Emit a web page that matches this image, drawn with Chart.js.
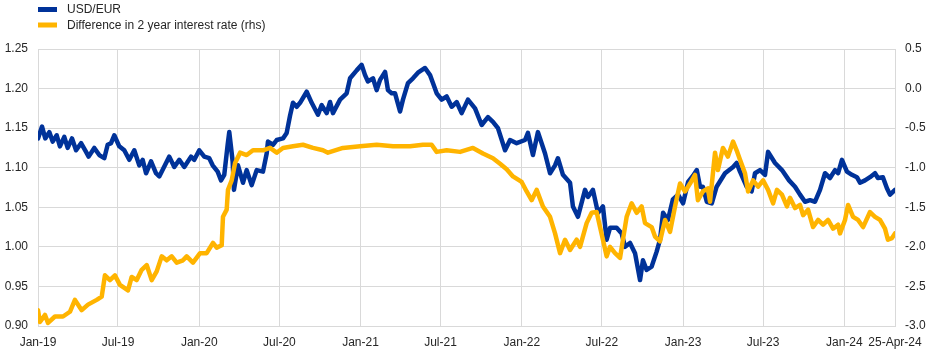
<!DOCTYPE html>
<html>
<head>
<meta charset="utf-8">
<script src="https://cdn.jsdelivr.net/npm/chart.js@4/dist/chart.umd.min.js"></script>
<style>
html,body{margin:0;padding:0;background:#fff;}
#wrap{position:relative;width:945px;height:356px;}
</style>
</head>
<body>
<div id="wrap"><canvas id="c" width="945" height="356"></canvas></div>
<script>
// Time expressed as decimal years
const usdTime = [
2019.000,2019.025,2019.045,2019.070,2019.091,2019.116,2019.136,2019.163,2019.184,2019.211,
2019.236,2019.267,2019.298,2019.314,2019.349,2019.380,2019.411,2019.432,2019.453,2019.473,
2019.504,2019.535,2019.566,2019.597,2019.628,2019.649,2019.670,2019.701,2019.732,2019.752,
2019.794,2019.814,2019.845,2019.876,2019.907,2019.949,2019.969,2020.000,2020.031,2020.062,
2020.083,2020.114,2020.135,2020.155,2020.176,2020.186,2020.207,2020.215,2020.240,2020.271,
2020.294,2020.325,2020.356,2020.395,2020.418,2020.426,2020.457,2020.480,2020.519,2020.542,
2020.563,2020.581,2020.604,2020.625,2020.666,2020.697,2020.736,2020.759,2020.790,2020.811,
2020.829,2020.873,2020.914,2020.935,2020.976,2021.007,2021.028,2021.046,2021.077,2021.100,
2021.121,2021.152,2021.170,2021.193,2021.214,2021.245,2021.263,2021.294,2021.325,2021.356,
2021.400,2021.431,2021.449,2021.472,2021.503,2021.534,2021.565,2021.596,2021.627,2021.666,
2021.710,2021.751,2021.790,2021.821,2021.852,2021.896,2021.927,2021.968,2022.020,2022.038,
2022.069,2022.100,2022.144,2022.175,2022.206,2022.224,2022.255,2022.299,2022.317,2022.348,
2022.392,2022.410,2022.441,2022.472,2022.503,2022.526,2022.547,2022.588,2022.619,2022.640,
2022.671,2022.702,2022.733,2022.751,2022.774,2022.805,2022.836,2022.857,2022.876,2022.906,
2022.937,2022.969,2023.000,2023.031,2023.062,2023.085,2023.105,2023.123,2023.147,2023.178,
2023.208,2023.260,2023.310,2023.332,2023.353,2023.394,2023.425,2023.446,2023.477,2023.508,
2023.527,2023.570,2023.613,2023.657,2023.694,2023.725,2023.756,2023.787,2023.818,2023.849,
2023.880,2023.911,2023.942,2023.961,2023.985,2024.016,2024.047,2024.078,2024.097,2024.128,
2024.159,2024.190,2024.208,2024.239,2024.264,2024.283,2024.314];
const usdValues = [
1.137,1.152,1.137,1.145,1.133,1.141,1.127,1.139,1.125,1.137,
1.122,1.131,1.120,1.114,1.125,1.116,1.112,1.129,1.131,1.141,
1.127,1.122,1.110,1.122,1.103,1.110,1.093,1.108,1.093,1.089,
1.106,1.114,1.101,1.110,1.101,1.114,1.110,1.122,1.114,1.112,
1.103,1.095,1.084,1.091,1.129,1.145,1.108,1.072,1.103,1.081,
1.097,1.078,1.097,1.095,1.118,1.133,1.129,1.135,1.137,1.144,
1.166,1.182,1.177,1.182,1.196,1.182,1.167,1.179,1.169,1.183,
1.169,1.186,1.194,1.213,1.223,1.230,1.217,1.209,1.213,1.198,
1.211,1.221,1.198,1.194,1.194,1.171,1.186,1.207,1.213,1.220,
1.226,1.217,1.207,1.194,1.186,1.190,1.177,1.183,1.169,1.186,
1.175,1.154,1.164,1.158,1.150,1.122,1.135,1.131,1.135,1.144,
1.116,1.145,1.118,1.093,1.103,1.112,1.091,1.081,1.051,1.038,
1.072,1.063,1.072,1.043,1.051,1.009,1.024,1.024,1.017,1.000,
1.005,0.992,0.958,0.983,0.971,0.975,0.994,1.009,1.043,1.034,
1.060,1.066,1.055,1.082,1.090,1.097,1.076,1.076,1.057,1.055,
1.076,1.093,1.101,1.106,1.095,1.076,1.070,1.093,1.097,1.091,
1.120,1.106,1.097,1.084,1.076,1.066,1.057,1.059,1.057,1.072,
1.093,1.087,1.097,1.093,1.110,1.095,1.091,1.088,1.081,1.084,
1.088,1.093,1.087,1.088,1.074,1.066,1.072];

const rateTime = [
2019.000,2019.012,2019.043,2019.062,2019.105,2019.155,2019.198,2019.229,2019.271,2019.310,
2019.364,2019.395,2019.415,2019.446,2019.477,2019.508,2019.558,2019.581,2019.612,2019.643,
2019.674,2019.705,2019.736,2019.767,2019.798,2019.829,2019.860,2019.899,2019.922,2019.961,
2020.005,2020.046,2020.085,2020.108,2020.139,2020.147,2020.170,2020.178,2020.201,2020.222,
2020.253,2020.294,2020.333,2020.395,2020.439,2020.480,2020.519,2020.581,2020.643,2020.705,
2020.767,2020.798,2020.891,2020.997,2021.100,2021.201,2021.307,2021.387,2021.441,2021.472,
2021.534,2021.617,2021.697,2021.759,2021.821,2021.865,2021.906,2021.945,2021.999,2022.030,
2022.061,2022.092,2022.131,2022.175,2022.206,2022.237,2022.268,2022.299,2022.340,2022.361,
2022.402,2022.433,2022.464,2022.485,2022.503,2022.526,2022.547,2022.578,2022.609,2022.627,
2022.650,2022.681,2022.712,2022.743,2022.764,2022.805,2022.826,2022.857,2022.888,2022.919,
2022.950,2022.981,2023.012,2023.043,2023.074,2023.092,2023.123,2023.154,2023.167,2023.198,
2023.216,2023.247,2023.278,2023.310,2023.332,2023.353,2023.384,2023.403,2023.434,2023.465,
2023.496,2023.527,2023.558,2023.582,2023.613,2023.644,2023.663,2023.694,2023.725,2023.744,
2023.775,2023.806,2023.837,2023.868,2023.899,2023.930,2023.961,2023.973,2024.004,2024.023,
2024.054,2024.085,2024.116,2024.159,2024.190,2024.221,2024.252,2024.270,2024.295,2024.314];
const rateValues = [
-2.80,-2.95,-2.86,-2.96,-2.88,-2.88,-2.82,-2.67,-2.80,-2.73,
-2.67,-2.63,-2.36,-2.42,-2.36,-2.48,-2.55,-2.38,-2.42,-2.29,
-2.23,-2.42,-2.31,-2.12,-2.17,-2.12,-2.20,-2.17,-2.12,-2.20,
-2.08,-2.08,-1.95,-2.01,-1.98,-1.62,-1.53,-1.28,-1.16,-0.94,
-0.81,-0.84,-0.78,-0.78,-0.75,-0.81,-0.75,-0.73,-0.71,-0.75,
-0.78,-0.81,-0.75,-0.73,-0.71,-0.73,-0.73,-0.71,-0.71,-0.80,
-0.78,-0.80,-0.75,-0.82,-0.88,-0.95,-1.02,-1.11,-1.18,-1.30,
-1.41,-1.28,-1.49,-1.62,-1.83,-2.08,-1.91,-2.04,-1.91,-2.00,
-1.70,-1.57,-1.56,-1.75,-1.91,-2.12,-2.00,-2.08,-2.14,-1.91,
-1.62,-1.45,-1.57,-1.49,-1.70,-1.75,-1.87,-1.93,-1.66,-1.81,
-1.49,-1.20,-1.30,-1.20,-1.09,-1.41,-1.30,-1.26,-1.43,-0.81,
-1.03,-0.75,-0.86,-0.67,-0.78,-0.90,-1.07,-1.30,-1.16,-1.24,
-1.16,-1.28,-1.45,-1.28,-1.34,-1.49,-1.38,-1.51,-1.47,-1.60,
-1.53,-1.75,-1.66,-1.72,-1.66,-1.77,-1.72,-1.83,-1.66,-1.47,
-1.62,-1.66,-1.75,-1.56,-1.62,-1.66,-1.77,-1.91,-1.89,-1.83];

const xTickValues = [2019.000,2019.496,2020.000,2020.497,2021.000,2021.496,2022.000,2022.496,2023.000,2023.496,2024.000,2024.314];
const xTickLabels = ['Jan-19','Jul-19','Jan-20','Jul-20','Jan-21','Jul-21','Jan-22','Jul-22','Jan-23','Jul-23','Jan-24','25-Apr-24'];

const seriesNames = ['USD/EUR','Difference in 2 year interest rate (rhs)'];
const seriesColors = ['#003299','#ffb400'];

const FONT = '"Liberation Sans", Arial, sans-serif';
const TXT = '#262626';
const GRID = '#d9d9d9';

const legendPlugin = {
  id: 'manualLegend',
  afterDraw(chart) {
    const ctx = chart.ctx;
    ctx.save();
    ctx.font = '12px ' + FONT;
    ctx.textBaseline = 'middle';
    const rows = [9.5, 25];
    seriesNames.forEach((n, i) => {
      ctx.fillStyle = seriesColors[i];
      ctx.fillRect(38, rows[i] - 2.5, 19, 5);
      ctx.fillStyle = TXT;
      ctx.fillText(n, 67, rows[i] + 0.5);
    });
    ctx.restore();
  }
};

const lineStyle = {borderWidth: 4.5, pointRadius: 0, tension: 0, borderJoinStyle: 'round', borderCapStyle: 'round'};

new Chart(document.getElementById('c'), {
  type: 'line',
  data: {
    datasets: [
      Object.assign({
        label: seriesNames[0],
        data: usdTime.map((t, i) => ({x: t, y: usdValues[i]})),
        borderColor: seriesColors[0],
        backgroundColor: seriesColors[0],
        yAxisID: 'y',
        order: 1
      }, lineStyle),
      Object.assign({
        label: seriesNames[1],
        data: rateTime.map((t, i) => ({x: t, y: rateValues[i]})),
        borderColor: seriesColors[1],
        backgroundColor: seriesColors[1],
        yAxisID: 'y1',
        order: 0
      }, lineStyle)
    ]
  },
  options: {
    responsive: false,
    animation: false,
    events: [],
    layout: {padding: {top: 49, left: 0, right: 0, bottom: 0}},
    plugins: {legend: {display: false}, tooltip: {enabled: false}},
    scales: {
      x: {
        type: 'linear',
        min: 2019.0,
        max: 2024.314,
        afterBuildTicks: (axis) => { axis.ticks = xTickValues.map(v => ({value: v})); },
        afterFit: (axis) => { axis.height = 30; },
        grid: {color: GRID, lineWidth: 1, drawTicks: false},
        border: {color: GRID},
        ticks: {
          autoSkip: false, maxRotation: 0, padding: 9,
          color: TXT, font: {family: FONT, size: 12},
          callback: (v, i) => xTickLabels[i]
        }
      },
      y: {
        position: 'left',
        min: 0.90, max: 1.25,
        afterBuildTicks: (axis) => {
          const t = []; for (let k = 0; k <= 7; k++) t.push({value: +(0.90 + k * 0.05).toFixed(2)});
          axis.ticks = t;
        },
        afterFit: (axis) => { axis.width = 38; },
        grid: {color: GRID, lineWidth: 1, drawTicks: false},
        border: {color: GRID},
        ticks: {padding: 10, color: TXT, font: {family: FONT, size: 12}, callback: v => Number(v).toFixed(2)}
      },
      y1: {
        position: 'right',
        min: -3.0, max: 0.5,
        afterBuildTicks: (axis) => {
          const t = []; for (let k = 0; k <= 7; k++) t.push({value: +(-3.0 + k * 0.5).toFixed(1)});
          axis.ticks = t;
        },
        afterFit: (axis) => { axis.width = 50; },
        grid: {display: false, drawTicks: false},
        border: {color: GRID},
        ticks: {padding: 10, color: TXT, font: {family: FONT, size: 12}, callback: v => Number(v).toFixed(1)}
      }
    }
  },
  plugins: [legendPlugin]
});
</script>
</body>
</html>
